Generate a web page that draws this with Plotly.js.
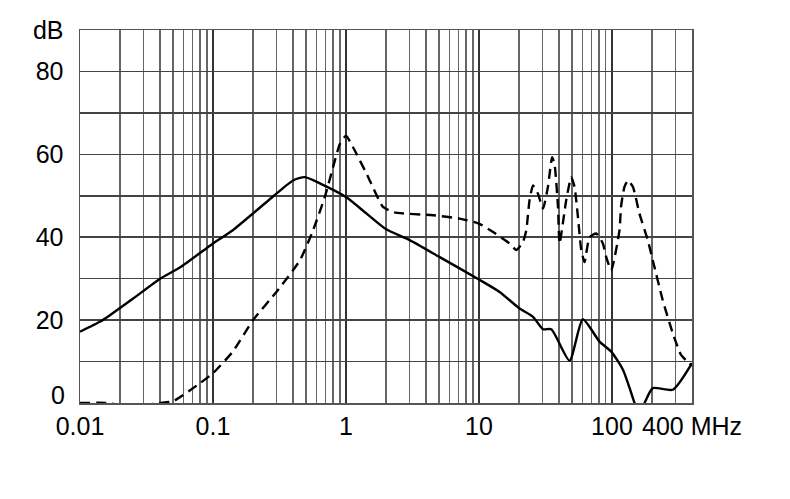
<!DOCTYPE html>
<html>
<head>
<meta charset="utf-8">
<script src="https://cdn.plot.ly/plotly-3.0.1.min.js"></script>
<style>
html,body{margin:0;padding:0;background:#fff;}
#chart{width:790px;height:499px;}
</style>
</head>
<body>
<div id="chart"></div>
<script>
// Solid curve
const solidFreq = [0.01, 0.0141, 0.0168, 0.0251, 0.04, 0.0564, 0.089, 0.1, 0.141, 0.253, 0.40, 0.49, 0.636, 1.0, 1.43, 2.01, 3.01, 5.07, 10, 14.3, 20.2, 25.5, 30.3, 35, 48, 60.4, 80.7, 98.8, 121, 148, 160, 176, 203, 287, 400];
const solidDb = [17.2, 19.6, 21.2, 25.2, 30.0, 32.7, 37.3, 38.5, 41.7, 48.5, 53.7, 54.5, 53.0, 49.7, 45.7, 41.9, 39.3, 35.2, 29.8, 26.8, 22.8, 20.8, 17.8, 17.8, 10.2, 20.2, 14.8, 12.4, 8.0, 0, -3, 0, 3.6, 3.2, 9.6];

// Dashed curve
const dashFreq = [0.01, 0.016, 0.025, 0.039, 0.05, 0.08, 0.1, 0.141, 0.2, 0.3, 0.45, 0.566, 0.693, 0.80, 0.90, 1.0, 1.13, 1.43, 1.90, 2.3, 4.52, 7.16, 10, 12.7, 17, 19.1, 21.4, 22.7, 24, 25.5, 27.8, 30.3, 33, 35.5, 37, 39.3, 40.4, 45.3, 49.4, 52.4, 55.5, 58.8, 62.2, 67.9, 76.2, 85.5, 90.6, 98.8, 114, 117, 124, 132, 144, 161, 186, 203, 241, 287, 331, 380, 400];
const dashDb = [0, 0, -1, 0, 0.4, 4.8, 7.2, 12.4, 20, 26.8, 34.4, 41.7, 49.7, 56.9, 62.5, 64.5, 61.7, 55.3, 47.3, 46, 45.3, 44.5, 43.3, 41.3, 38.5, 36.9, 38.8, 41.7, 48.9, 52.5, 50.5, 46.9, 52.1, 59.3, 57.7, 47.3, 38.5, 48.9, 54.5, 52.1, 44.9, 36.9, 34.0, 40.0, 40.9, 38.5, 35.2, 32, 41.7, 47.3, 52.1, 53.7, 52.1, 45.7, 39.3, 34.4, 24.8, 16.8, 11.6, 9.6, 9];

// Axis ticks
const xMajorVals = [0.01, 0.1, 1, 10, 100, 400];
const xMajorText = ['0.01', '0.1', '1', '10', '100', '400 MHz'];
const xMinorVals = [0.02,0.03,0.04,0.05,0.06,0.07,0.08,0.09, 0.2,0.3,0.4,0.5,0.6,0.7,0.8,0.9, 2,3,4,5,6,7,8,9, 20,30,40,50,60,70,80,90, 200,300];
const yVals = [0, 10, 20, 30, 40, 50, 60, 70, 80, 90];
const yText = ['', '', '20', '', '40', '', '60', '', '80', 'dB'];
const yZeroLabel = '0';

const traces = [
  {x: solidFreq, y: solidDb, type: 'scatter', mode: 'lines',
   line: {color: '#000', width: 2.4, shape: 'spline', smoothing: 0.6}, hoverinfo: 'skip'},
  {x: dashFreq, y: dashDb, type: 'scatter', mode: 'lines',
   line: {color: '#000', width: 2.4, dash: '10px,6px', shape: 'spline', smoothing: 0.5}, hoverinfo: 'skip'}
];

const font = {family: 'Liberation Sans, Arial, sans-serif', size: 25, color: '#000'};

const layout = {
  width: 790, height: 499,
  margin: {l: 80, r: 98, t: 30, b: 96},
  paper_bgcolor: '#fff', plot_bgcolor: '#fff',
  showlegend: false,
  font: font,
  xaxis: {
    type: 'log',
    range: [Math.log10(0.01), Math.log10(400)],
    tickmode: 'array', tickvals: xMajorVals, ticktext: xMajorText,
    showgrid: true, gridcolor: '#333', gridwidth: 2,
    minor: {tickmode: 'array', tickvals: xMinorVals, showgrid: true, gridcolor: '#666', gridwidth: 1.3, ticks: ''},
    ticks: '',
    showline: true, mirror: true, linecolor: '#555', linewidth: 1.5,
    zeroline: false, tickfont: font
  },
  yaxis: {
    range: [0, 90],
    tickmode: 'array', tickvals: yVals, ticktext: yText,
    showgrid: true, gridcolor: '#444', gridwidth: 1.5,
    ticks: 'outside', ticklen: 10, tickcolor: 'rgba(0,0,0,0)',
    showline: true, mirror: true, linecolor: '#555', linewidth: 1.5,
    zeroline: false, tickfont: font
  },
  annotations: [
    {text: yZeroLabel, xref: 'paper', x: 0, yref: 'y', y: 0, xanchor: 'right', yanchor: 'middle',
     xshift: -13, yshift: 8, showarrow: false, font: font}
  ]
};

Plotly.newPlot('chart', traces, layout, {staticPlot: true, displayModeBar: false});
</script>
</body>
</html>
